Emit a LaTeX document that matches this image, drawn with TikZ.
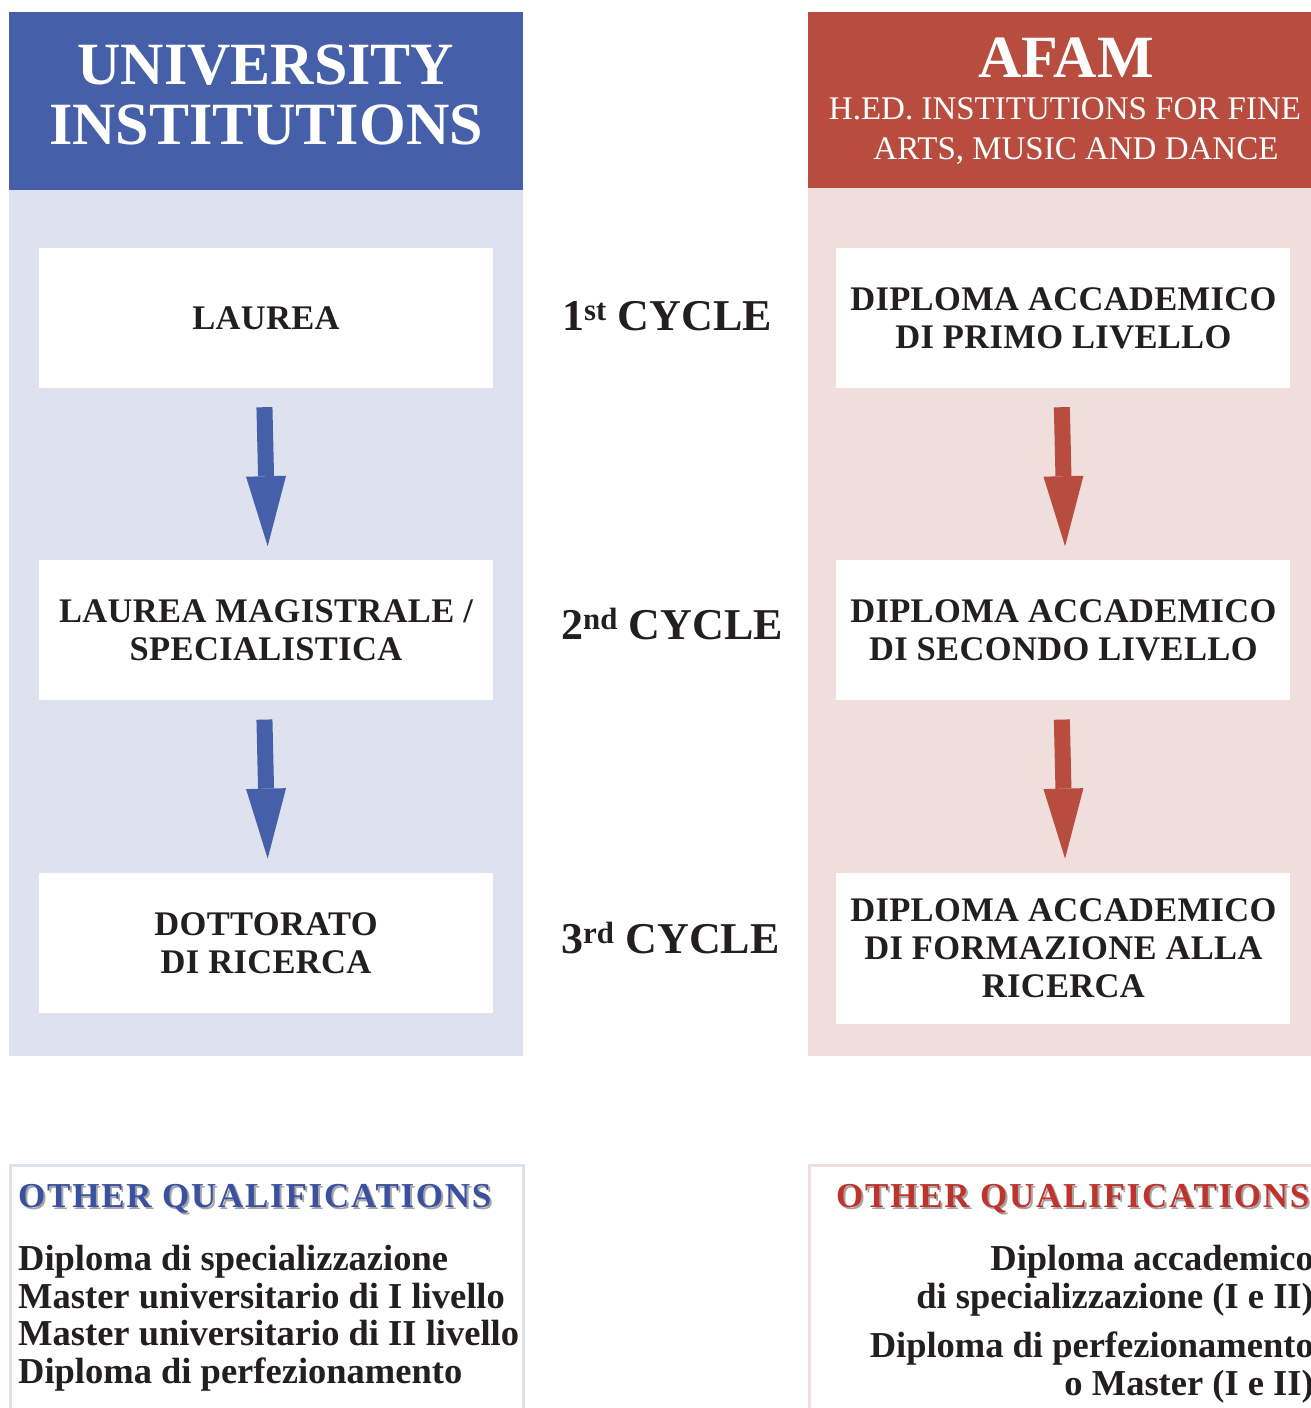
\documentclass[tikz,border=0pt]{standalone}
\usepackage{fontspec}
\setmainfont{Liberation Serif}
\newfontfamily\trackfont[LetterSpace=1]{Liberation Serif}
\newfontfamily\qualfont[LetterSpace=5]{Liberation Serif}
\usepackage{xcolor}
\usetikzlibrary{positioning, arrows.meta}

\definecolor{uniblue}{RGB}{69,96,169}
\definecolor{unipale}{RGB}{222,225,238}
\definecolor{afamred}{RGB}{183,76,63}
\definecolor{afampale}{RGB}{240,222,220}
\definecolor{inkdark}{RGB}{35,31,32}
\definecolor{qualblue}{RGB}{58,80,160}
\definecolor{qualred}{RGB}{190,52,45}
\definecolor{shadowgray}{RGB}{165,165,165}

\newcommand{\shadowtext}[1]{\makebox[0pt][l]{\hspace{2pt}\raisebox{-2pt}{\color{shadowgray}#1}}#1}

\begin{document}
\begin{tikzpicture}[x=1pt, y=-1pt, every node/.style={anchor=center, inner sep=0pt},
  headbox/.style={anchor=north west, minimum width=514pt, minimum height=178pt},
  panelbox/.style={anchor=north west, minimum width=514pt, minimum height=866pt},
  headtitle/.style={text=white, align=center, font=\bfseries\fontsize{60pt}{60pt}\selectfont},
  headsub/.style={text=white, align=center, font=\fontsize{33pt}{40pt}\selectfont},
  stagebox/.style={fill=white, minimum width=454pt, minimum height=140pt, align=center,
    text=inkdark, font=\trackfont\bfseries\fontsize{34.5pt}{38pt}\selectfont},
  cyclelabel/.style={anchor=base west, text=inkdark, font=\bfseries\fontsize{44pt}{44pt}\selectfont},
  flowarrow/.style={line width=16pt, shorten <=19pt, shorten >=14pt,
    -{Triangle[length=70pt, width=40pt, line width=0pt]}},
  otherframe/.style={anchor=north west, draw, line width=2.5pt, minimum height=280pt},
  qualtitle/.style={anchor=base west, font=\qualfont\bfseries\fontsize{35pt}{35pt}\selectfont},
  quallist/.style={text=inkdark, font=\bfseries\fontsize{36.5pt}{37.5pt}\selectfont}]

\useasboundingbox (0,0) rectangle (1311,1408);

% column backgrounds
\node[headbox, fill=uniblue] (unihead) at (9,12) {};
\node[panelbox, fill=unipale] (unipanel) at (9,190) {};
\node[headbox, fill=afamred, minimum width=512pt, minimum height=176pt] (afamhead) at (808,12) {};
\node[panelbox, fill=afampale, minimum width=512pt, minimum height=868pt] (afampanel) at (808,188) {};

\node[headtitle] (unititle) at (266,95) {UNIVERSITY\\INSTITUTIONS};
\node[headtitle, anchor=base] (afamtitle) at (1066,77) {AFAM};
\node[headsub] (afamsub) at (1065,131) {H.ED. INSTITUTIONS FOR FINE\\\hspace*{22pt}ARTS, MUSIC AND DANCE};

% cycle boxes
\node[stagebox] (l1) at (266,318) {LAUREA};
\node[stagebox, below=172pt of l1] (l2) {LAUREA MAGISTRALE /\\SPECIALISTICA};
\node[stagebox, below=172pt of l2] (l3) {DOTTORATO\\DI RICERCA};

\node[stagebox, right=343pt of l1] (r1) {DIPLOMA ACCADEMICO\\DI PRIMO LIVELLO};
\node[stagebox, below=172pt of r1] (r2) {DIPLOMA ACCADEMICO\\DI SECONDO LIVELLO};
\node[stagebox, below=172pt of r2, minimum height=151pt] (r3) {DIPLOMA ACCADEMICO\\DI FORMAZIONE ALLA\\RICERCA};

\node[cyclelabel] (cyc1) at (562,330) {1\textsuperscript{st} CYCLE};
\node[cyclelabel] (cyc2) at (561,639) {2\textsuperscript{nd} CYCLE};
\node[cyclelabel] (cyc3) at (561,953) {3\textsuperscript{rd} CYCLE};

% down arrows
\foreach \col/\clr in {l/uniblue, r/afamred} {
  \foreach \i in {1,2} {
    \pgfmathtruncatemacro{\j}{\i+1}
    \draw[flowarrow, \clr] ([xshift=-2pt]\col\i.south) -- ([xshift=2pt]\col\j.north);
  }
}

% other qualifications
\node[otherframe, draw=unipale, minimum width=513pt] (otherl) at (9,1164) {};
\node[otherframe, draw=afampale, minimum width=520pt] (otherr) at (808,1164) {};

\node[qualtitle, text=qualblue] (quall) at (18,1207) {\shadowtext{OTHER QUALIFICATIONS}};
\node[qualtitle, text=qualred] (qualr) at (836,1207) {\shadowtext{OTHER QUALIFICATIONS}};

\node[quallist, anchor=north west, align=left] (listl) at (18,1245) {Diploma di specializzazione\\Master universitario di I livello\\Master universitario di II livello\\Diploma di perfezionamento};
\node[quallist, anchor=north east, align=right] (listr) at (1314,1245) {Diploma accademico\\di specializzazione (I e II)\\[12pt]Diploma di perfezionamento\\o Master (I e II)};

\end{tikzpicture}
\end{document}
